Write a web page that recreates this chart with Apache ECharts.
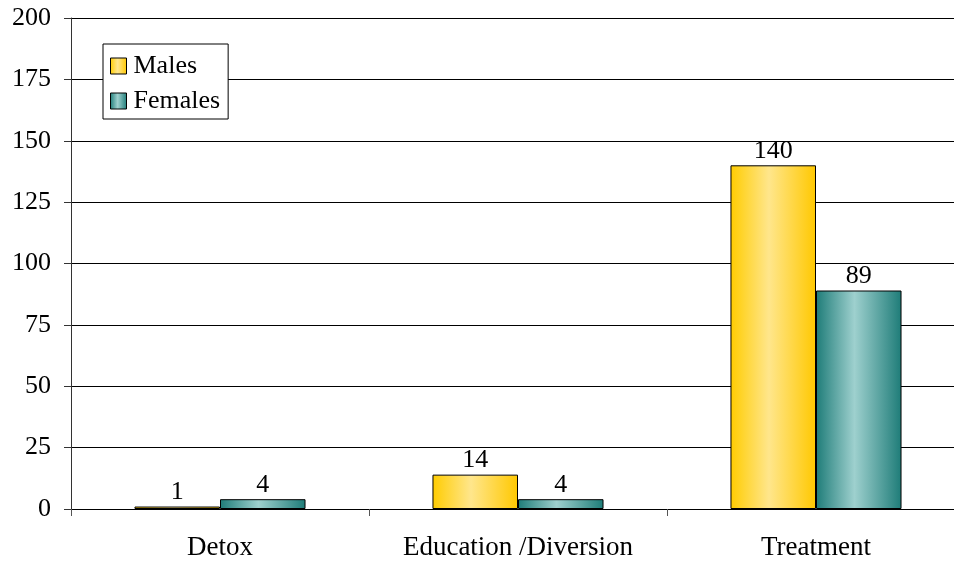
<!DOCTYPE html>
<html><head><meta charset="utf-8">
<script src="https://cdn.jsdelivr.net/npm/echarts@6/dist/echarts.min.js"></script>
<style>html,body{margin:0;padding:0;background:#fff}#c{width:954px;height:563px}</style>
</head><body><div id="c"></div>
<script>
const categories = ['Detox', 'Education /Diversion', 'Treatment'];
const males = [1, 14, 140];
const females = [4, 4, 89];
const yTicks = [0, 25, 50, 75, 100, 125, 150, 175, 200];

const font = "'Liberation Serif', 'Times New Roman', serif";
const yellowGrad = new echarts.graphic.LinearGradient(0, 0, 1, 0, [
  {offset: 0, color: '#FFCC00'}, {offset: 0.45, color: '#FFE68C'}, {offset: 1, color: '#FFC800'}]);
const tealGrad = new echarts.graphic.LinearGradient(0, 0, 1, 0, [
  {offset: 0, color: '#1E7C78'}, {offset: 0.45, color: '#9ED0CE'}, {offset: 1, color: '#1E7C78'}]);

const chart = echarts.init(document.getElementById('c'), null, {renderer: 'canvas'});
chart.setOption({
  animation: false,
  grid: {left: 71, width: 894, top: 18, bottom: 54, containLabel: false, outerBoundsMode: 'none'},
  legend: {
    left: 103, top: 44, orient: 'vertical', icon: 'rect', itemWidth: 16, itemHeight: 16, itemGap: 9,
    padding: [9, 8, 5, 7], backgroundColor: '#fff', borderColor: '#000', borderWidth: 1,
    textStyle: {fontFamily: font, fontSize: 26, color: '#000', padding: [0, 0, 0, 2]},
    data: [{name: 'Males', itemStyle: {borderColor: '#000', borderWidth: 1}},
           {name: 'Females', itemStyle: {borderColor: '#000', borderWidth: 1}}]
  },
  xAxis: {
    type: 'category', data: categories,
    axisLine: {lineStyle: {color: '#000', width: 1}},
    axisTick: {show: true, interval: 0, length: 7, lineStyle: {color: '#555'}},
    axisLabel: {interval: 0, hideOverlap: false, fontFamily: font, fontSize: 27, color: '#000', margin: 25}
  },
  yAxis: {
    type: 'value', min: yTicks[0], max: yTicks[yTicks.length - 1], interval: 25,
    axisLine: {show: true, lineStyle: {color: '#333'}},
    axisTick: {show: true, length: 7, lineStyle: {color: '#333'}},
    splitLine: {lineStyle: {color: '#000', width: 1}},
    axisLabel: {fontFamily: font, fontSize: 26, color: '#000', margin: 20}
  },
  series: [
    {name: 'Males', type: 'bar', data: males, barGap: '0%', barCategoryGap: '42.6%',
     itemStyle: {color: yellowGrad, borderColor: '#000', borderWidth: 1},
     label: {show: true, position: 'top', distance: 1, fontFamily: font, fontSize: 26, color: '#000'}},
    {name: 'Females', type: 'bar', data: females,
     itemStyle: {color: tealGrad, borderColor: '#000', borderWidth: 1},
     label: {show: true, position: 'top', distance: 1, fontFamily: font, fontSize: 26, color: '#000'}}
  ]
});
</script></body></html>
